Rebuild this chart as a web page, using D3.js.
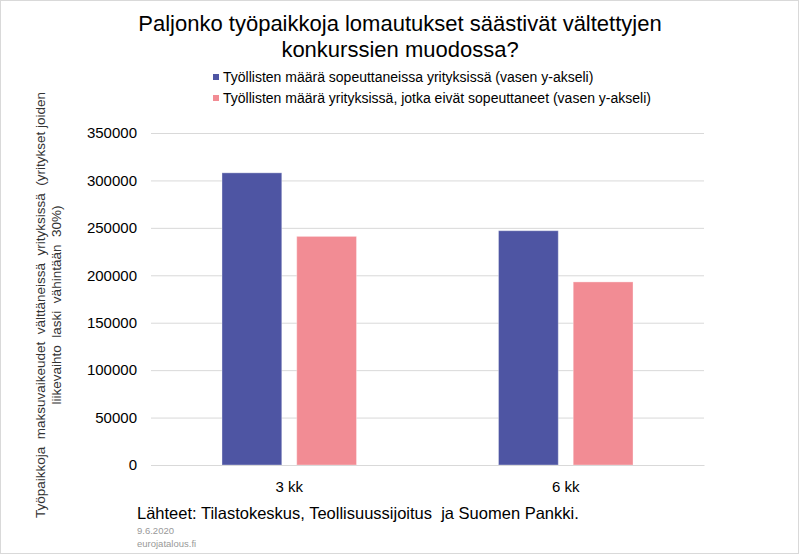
<!DOCTYPE html>
<html>
<head>
<meta charset="utf-8">
<script src="https://cdn.jsdelivr.net/npm/d3@7"></script>
<style>
  html, body { margin: 0; padding: 0; background: #fff; }
  svg text { font-family: "Liberation Sans", Arial, sans-serif; }
</style>
</head>
<body>
<svg id="chart" width="800" height="556"></svg>
<script>
const categories = ["3 kk", "6 kk"];
const seriesNames = [
  "Työllisten määrä sopeuttaneissa yrityksissä (vasen y-akseli)",
  "Työllisten määrä yrityksissä, jotka eivät sopeuttaneet (vasen y-akseli)"
];
const adaptedValues = [308000, 247000];
const notAdaptedValues = [241000, 193000];
const yTicks = [0, 50000, 100000, 150000, 200000, 250000, 300000, 350000];
const colors = ["#4e55a3", "#f28c94"];

const titleLines = ["Paljonko työpaikkoja lomautukset säästivät vältettyjen", "konkurssien muodossa?"];
const yTitleLines = ["Työpaikkoja  maksuvaikeudet  välttäneissä  yrityksissä  (yritykset joiden", "liikevaihto  laski  vähintään  30%)"];

const svg = d3.select("#chart");
const W = 800, H = 556;
const m = { left: 151, right: 96, top: 133, bottom: 91 };

svg.append("rect").attr("x", 0.5).attr("y", 0.5).attr("width", W - 2).attr("height", H - 3)
  .attr("fill", "#fff").attr("stroke", "#d9d9d9");

const x0 = d3.scaleBand().domain(categories).range([m.left, W - m.right]).paddingInner(0).paddingOuter(0);
const x1 = d3.scaleBand().domain([0, 1]).range([0, x0.bandwidth()]).paddingInner(0.2).paddingOuter(0.95);
const y = d3.scaleLinear().domain([0, 350000]).range([H - m.bottom, m.top]);

// gridlines
const yAxis = d3.axisLeft(y).tickValues(yTicks).tickSize(-(W - m.right - m.left)).tickPadding(14).tickFormat(d3.format("d"));
const gy = svg.append("g").attr("transform", `translate(${m.left},0)`).call(yAxis);
gy.select(".domain").remove();
gy.selectAll(".tick line").attr("stroke", "#d9d9d9").attr("stroke-width", 1);
gy.selectAll(".tick text").attr("font-size", 15).attr("fill", "#000");

// bars
const data = categories.map((c, i) => ({ c, vals: [adaptedValues[i], notAdaptedValues[i]] }));
const groups = svg.append("g").selectAll("g").data(data).join("g")
  .attr("transform", d => `translate(${x0(d.c)},0)`);
groups.selectAll("rect").data(d => d.vals.map((v, k) => ({ v, k }))).join("rect")
  .attr("x", d => x1(d.k))
  .attr("width", x1.bandwidth())
  .attr("y", d => y(d.v))
  .attr("height", d => y(0) - y(d.v))
  .attr("fill", d => colors[d.k])
  .attr("stroke", "rgba(255,255,255,0.35)")
  .attr("stroke-width", 1);

// x axis
const xAxis = d3.axisBottom(x0).tickSize(0).tickPadding(16);
const gx = svg.append("g").attr("transform", `translate(0,${y(0)})`).call(xAxis);
gx.select(".domain").attr("stroke", "#d9d9d9");
gx.selectAll(".tick text").attr("font-size", 15).attr("fill", "#000");

// title
svg.append("g").selectAll("text").data(titleLines).join("text")
  .attr("x", 400).attr("y", (d, i) => 31 + i * 26)
  .attr("text-anchor", "middle").attr("font-size", 22).attr("fill", "#000")
  .text(d => d);

// legend
const lg = svg.append("g").selectAll("g").data(seriesNames).join("g")
  .attr("transform", (d, i) => `translate(213,${77 + i * 21})`);
lg.append("rect").attr("x", 0).attr("y", -3).attr("width", 6).attr("height", 6)
  .attr("fill", (d, i) => colors[i]);
lg.append("text").attr("x", 10).attr("y", 5).attr("font-size", 14).attr("fill", "#000").text(d => d);

// y title
svg.append("g").attr("transform", "translate(0,305) rotate(-90)")
  .selectAll("text").data(yTitleLines).join("text")
  .attr("x", 0).attr("y", (d, i) => 45 + i * 16)
  .attr("text-anchor", "middle").attr("font-size", 13.5).attr("fill", "#333")
  .style("white-space", "pre")
  .text(d => d);

// footer
svg.append("text").attr("x", 137).attr("y", 519).attr("font-size", 16.5).attr("fill", "#000")
  .style("white-space", "pre")
  .text("Lähteet: Tilastokeskus, Teollisuussijoitus  ja Suomen Pankki.");
svg.append("text").attr("x", 137).attr("y", 534).attr("font-size", 9.5).attr("fill", "#999").text("9.6.2020");
svg.append("text").attr("x", 137).attr("y", 547).attr("font-size", 9.5).attr("fill", "#999").text("eurojatalous.fi");
</script>
</body>
</html>
